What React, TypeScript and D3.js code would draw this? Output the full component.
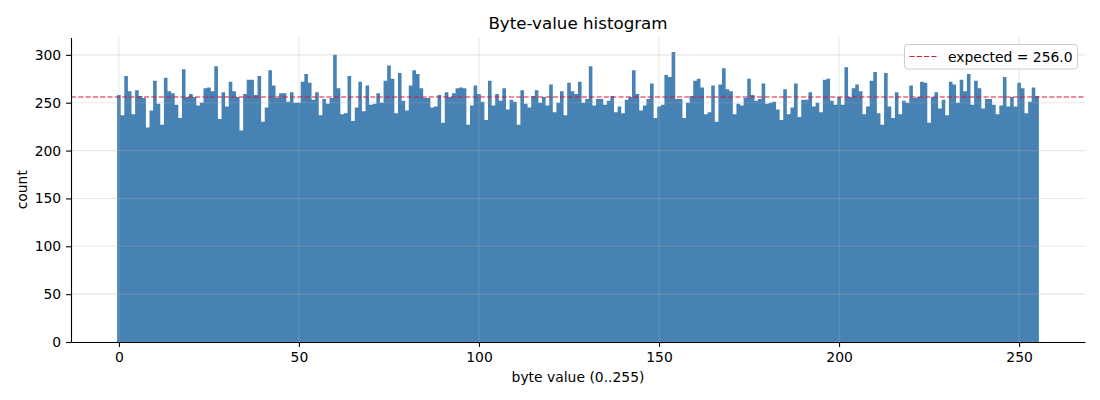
import React, { useEffect, useRef } from 'react';
import * as d3 from 'd3';

// counts per byte value (bins 0..255)
const byteCounts: number[] = [
	258, 237, 278, 262, 238, 263, 257, 255, 224, 242, 273, 249, 227, 276, 262, 260,
	248, 234, 285, 256, 259, 256, 247, 250, 265, 266, 262, 288, 233, 261, 246, 272,
	262, 256, 221, 259, 274, 274, 258, 278, 230, 245, 284, 268, 255, 260, 260, 251,
	261, 250, 250, 272, 280, 271, 253, 261, 237, 254, 249, 255, 300, 265, 238, 239,
	278, 231, 245, 272, 241, 268, 248, 249, 260, 250, 273, 289, 275, 239, 281, 252,
	242, 268, 284, 280, 265, 255, 255, 245, 246, 258, 229, 261, 256, 260, 265, 266,
	265, 227, 247, 268, 259, 251, 232, 273, 247, 259, 252, 265, 243, 253, 251, 227,
	263, 249, 245, 257, 263, 250, 256, 247, 269, 240, 250, 262, 237, 271, 262, 259,
	272, 250, 254, 288, 247, 254, 254, 248, 252, 257, 240, 246, 239, 253, 256, 284,
	259, 242, 247, 254, 270, 234, 246, 248, 279, 277, 303, 254, 254, 234, 250, 257,
	273, 275, 266, 238, 240, 268, 230, 269, 286, 264, 262, 238, 249, 247, 255, 275,
	258, 252, 254, 270, 249, 250, 251, 243, 232, 264, 238, 245, 270, 235, 253, 253,
	261, 246, 250, 240, 274, 275, 252, 248, 256, 248, 287, 256, 265, 269, 262, 238,
	246, 273, 282, 239, 227, 281, 246, 234, 261, 238, 252, 250, 268, 255, 256, 272,
	271, 229, 256, 261, 244, 253, 237, 272, 269, 250, 274, 262, 280, 248, 273, 265,
	244, 254, 254, 248, 238, 247, 277, 246, 256, 246, 271, 265, 239, 251, 266, 257,
];
const expectedCount = 256.0;
const xTicks = [0, 50, 100, 150, 200, 250];
const yTicks = [0, 50, 100, 150, 200, 250, 300];
const chartTitle = "Byte-value histogram";
const xLabel = "byte value (0..255)";
const yLabel = "count";

const FONT = "DejaVu Sans, sans-serif";

const App = () => {
	const ref = useRef<SVGSVGElement>(null);
	useEffect(() => drawChart(), []);

	function drawChart() {
		document.body.style.margin = "0";
		const svg = d3.select(ref.current);
		svg.selectAll("*").remove();

		const left = 71, right = 1085, top = 37.5, bottom = 342;
		const lo = -0.5, hi = byteCounts.length - 0.5;
		const pad = (hi - lo) * 0.05;
		const xScale = d3.scaleLinear().domain([lo - pad, hi + pad]).range([left, right]);
		const yScale = d3.scaleLinear().domain([0, d3.max(byteCounts)! * 1.05]).range([bottom, top]);

		// bars as one stepped shape, so no seams between neighbouring bins
		const edges: [number, number][] = [];
		byteCounts.forEach((d, i) => {
			edges.push([i - 0.5, d]);
			edges.push([i + 0.5, d]);
		});
		const area = d3.area<[number, number]>()
			.x((p) => xScale(p[0]))
			.y0(bottom)
			.y1((p) => yScale(p[1]));
		svg.append("path")
			.attr("d", area(edges))
			.attr("fill", "steelblue");

		// grid (drawn over the bars, faint)
		const grid = svg.append("g")
			.attr("stroke", "#b0b0b0")
			.attr("stroke-opacity", 0.3)
			.attr("stroke-width", 1.1);
		grid.selectAll("line.gx")
			.data(xTicks)
			.enter()
			.append("line")
			.attr("class", "gx")
			.attr("x1", (d) => xScale(d)).attr("x2", (d) => xScale(d))
			.attr("y1", top).attr("y2", bottom);
		grid.selectAll("line.gy")
			.data(yTicks)
			.enter()
			.append("line")
			.attr("class", "gy")
			.attr("x1", left).attr("x2", right)
			.attr("y1", (d) => yScale(d)).attr("y2", (d) => yScale(d));

		// expected line
		svg.append("line")
			.attr("x1", left).attr("x2", right)
			.attr("y1", yScale(expectedCount)).attr("y2", yScale(expectedCount))
			.attr("stroke", "crimson")
			.attr("stroke-width", 1.2)
			.attr("stroke-dasharray", "5.1,2.2");

		// axes
		const xAxis = d3.axisBottom(xScale).tickValues(xTicks).tickSize(4.9).tickSizeOuter(0).tickPadding(4.9);
		const yAxis = d3.axisLeft(yScale).tickValues(yTicks).tickSize(4.9).tickSizeOuter(0).tickPadding(4.9);
		const gx = svg.append("g")
			.attr("transform", "translate(0," + bottom + ")")
			.call(xAxis);
		const gy = svg.append("g")
			.attr("transform", "translate(" + left + ",0)")
			.call(yAxis);
		[gx, gy].forEach((g) => {
			g.selectAll("path, line").attr("stroke", "#000").attr("stroke-width", 1.1);
			g.selectAll("text")
				.attr("fill", "#000")
				.attr("font-family", FONT)
				.attr("font-size", "13.9px");
		});

		// title and labels
		const cx = (left + right) / 2;
		svg.append("text")
			.text(chartTitle)
			.attr("x", cx)
			.attr("y", 29)
			.attr("text-anchor", "middle")
			.attr("font-family", FONT)
			.attr("font-size", "16.7px");
		svg.append("text")
			.text(xLabel)
			.attr("x", cx)
			.attr("y", 381.5)
			.attr("text-anchor", "middle")
			.attr("font-family", FONT)
			.attr("font-size", "13.9px");
		svg.append("text")
			.text(yLabel)
			.attr("transform", "translate(27," + (top + bottom) / 2 + ") rotate(-90)")
			.attr("text-anchor", "middle")
			.attr("font-family", FONT)
			.attr("font-size", "13.9px");

		// legend
		const lg = svg.append("g");
		lg.append("rect")
			.attr("x", 904.5).attr("y", 44.5)
			.attr("width", 173).attr("height", 24.5)
			.attr("rx", 3)
			.attr("fill", "white").attr("fill-opacity", 0.8)
			.attr("stroke", "#cccccc").attr("stroke-width", 1);
		lg.append("line")
			.attr("x1", 909.5).attr("x2", 937.5)
			.attr("y1", 56.5).attr("y2", 56.5)
			.attr("stroke", "crimson")
			.attr("stroke-width", 1.2)
			.attr("stroke-dasharray", "5.1,2.2");
		lg.append("text")
			.text("expected = " + expectedCount.toFixed(1))
			.attr("x", 948)
			.attr("y", 61.5)
			.attr("font-family", FONT)
			.attr("font-size", "13.9px");
	}

	return <svg ref={ref} width={1100} height={400} style={{ display: "block" }}></svg>;
};

export default App;
